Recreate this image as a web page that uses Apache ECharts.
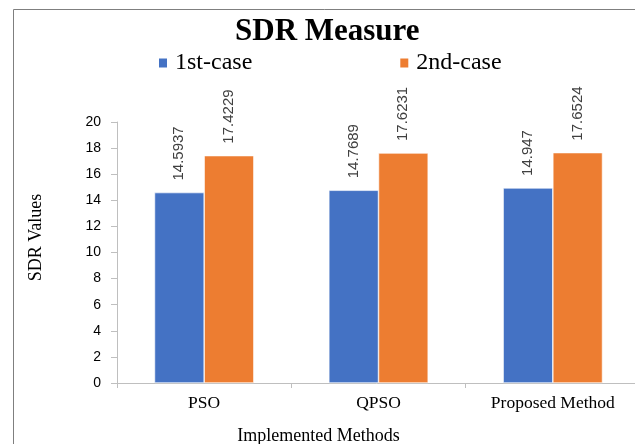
<!DOCTYPE html>
<html>
<head>
<meta charset="utf-8">
<script src="https://cdn.jsdelivr.net/npm/echarts@6/dist/echarts.min.js"></script>
<style>html,body{margin:0;padding:0;background:#fff;}#c{width:635px;height:444px;}</style>
</head>
<body>
<div id="c"></div>
<script>
const categories = ['PSO', 'QPSO', 'Proposed Method'];
const case1 = [14.5937, 14.7689, 14.947];
const case2 = [17.4229, 17.6231, 17.6524];
const seriesNames = ['1st-case', '2nd-case'];
const yTicks = { min: 0, max: 20, interval: 2 };

const chart = echarts.init(document.getElementById('c'), null, { renderer: 'canvas' });
const labelStyle = {
  show: true,
  position: 'top',
  rotate: 90,
  align: 'left',
  verticalAlign: 'middle',
  distance: 12,
  fontFamily: 'Liberation Sans',
  fontSize: 15,
  color: '#404040',
  formatter: p => String(p.value)
};
chart.setOption({
  animation: false,
  backgroundColor: '#fff',
  title: {
    text: 'SDR Measure',
    left: 235,
    top: 16,
    padding: 0,
    textStyle: { fontFamily: 'Liberation Serif', fontWeight: 'bold', fontSize: 31, color: '#000' }
  },
  legend: {
    data: seriesNames,
    left: 157,
    top: 51,
    padding: 0,
    itemWidth: 10,
    itemHeight: 11,
    itemGap: 146,
    icon: 'rect',
    textStyle: { fontFamily: 'Liberation Serif', fontSize: 24, color: '#000', padding: [0, 0, 0, 2] }
  },
  grid: { left: 117, right: -5, top: 122, bottom: 61, containLabel: false, outerBoundsMode: 'none' },
  xAxis: {
    type: 'category',
    data: categories,
    name: 'Implemented Methods',
    nameLocation: 'middle',
    nameGap: 44,
    nameTextStyle: { fontFamily: 'Liberation Serif', fontSize: 18, color: '#000', padding: [0, 120, 0, 0] },
    axisLine: { lineStyle: { color: '#bfbfbf' } },
    axisTick: { show: true, length: 5, lineStyle: { color: '#bfbfbf' } },
    axisLabel: { fontFamily: 'Liberation Serif', fontSize: 17.5, color: '#000', margin: 11 }
  },
  yAxis: {
    type: 'value',
    min: yTicks.min,
    max: yTicks.max,
    interval: yTicks.interval,
    name: 'SDR Values',
    nameLocation: 'middle',
    nameGap: 72,
    nameRotate: 90,
    nameTextStyle: { fontFamily: 'Liberation Serif', fontSize: 18, color: '#000', padding: [0, 0, 0, 30] },
    axisLine: { show: true, lineStyle: { color: '#bfbfbf' } },
    axisTick: { show: true, length: 6, lineStyle: { color: '#bfbfbf' } },
    splitLine: { show: false },
    axisLabel: { fontFamily: 'Liberation Sans', fontSize: 14, color: '#000', margin: 16 }
  },
  series: [
    {
      name: seriesNames[0], type: 'bar', data: case1,
      barGap: '0%', barCategoryGap: '43%',
      itemStyle: { color: '#4472C4', borderColor: '#ffffff', borderWidth: 0.6 },
      label: labelStyle
    },
    {
      name: seriesNames[1], type: 'bar', data: case2,
      barGap: '0%', barCategoryGap: '43%',
      itemStyle: { color: '#ED7D31', borderColor: '#ffffff', borderWidth: 0.6 },
      label: labelStyle
    }
  ],
  graphic: [
    { type: 'rect', left: 11, top: 7, shape: { x: 0, y: 0, width: 700, height: 500 }, style: { fill: 'none', stroke: '#7f7f7f', lineWidth: 1 }, silent: true, z: -1 }
  ]
});
</script>
</body>
</html>
